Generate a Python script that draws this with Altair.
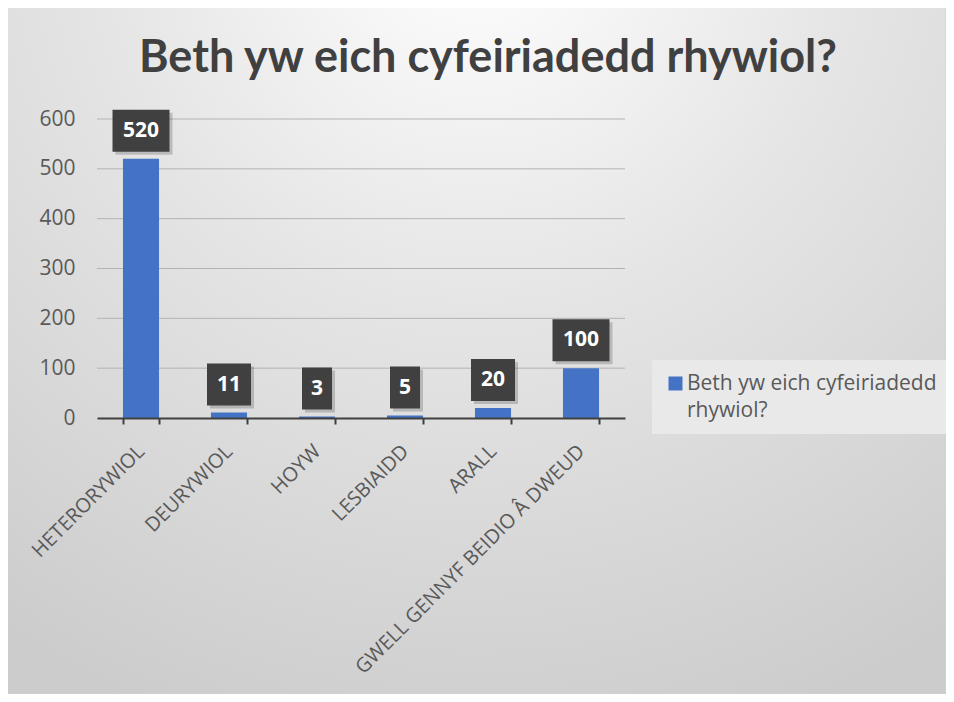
import altair as alt
import pandas as pd

categories = ["HETERORYWIOL", "DEURYWIOL", "HOYW", "LESBIAIDD", "ARALL", "GWELL GENNYF BEIDIO Â DWEUD"]
values = [520, 11, 3, 5, 20, 100]
series_name = "Beth yw eich cyfeiriadedd rhywiol?"
legend_lines = ["Beth yw eich cyfeiriadedd", "rhywiol?"]
title_text = "Beth yw eich cyfeiriadedd rhywiol?"
y_ticks = [0, 100, 200, 300, 400, 500, 600]

df = pd.DataFrame({"cat": categories, "value": values})
df["series"] = series_name
df["digits"] = df["value"].astype(str).str.len().astype(str)
grid_df = pd.DataFrame({"value": y_ticks[1:]})

PW, PH = 528, 299
PAD = {"left": 89, "top": 111, "right": 938 - 89 - PW, "bottom": 686 - 111 - PH}

# label box shapes (unit path scaled by sqrt(size)/2)
box_paths = [
    "M-0.714,-1L0.714,-1L0.714,1L-0.714,1Z",
    "M-1.048,-1L1.048,-1L1.048,1L-1.048,1Z",
    "M-1.357,-1L1.357,-1L1.357,1L-1.357,1Z",
]
shape_scale = alt.Scale(domain=["1", "2", "3"], range=box_paths)

x_axis = alt.Axis(
    title=None,
    labelAngle=-45,
    labelAlign="right",
    labelBaseline="middle",
    labelFont="Open Sans",
    labelFontSize=20,
    labelColor="#595959",
    labelPadding=24,
    labelLimit=0,
    domainColor="#404040",
    domainWidth=1.8,
    tickColor="#404040",
    tickWidth=2,
    tickSize=6,
    tickBand="extent",
    grid=False,
    zindex=2,
)
y_axis = alt.Axis(
    title=None,
    values=y_ticks,
    domain=False,
    ticks=False,
    grid=False,
    labelFont="Open Sans",
    labelFontSize=21,
    labelColor="#595959",
    labelPadding=22,
    zindex=2,
)
y_scale = alt.Scale(domain=[0, 600], nice=False)

x_enc = alt.X("cat:N", sort=categories, scale=alt.Scale(paddingInner=0.59, paddingOuter=0.295), axis=x_axis)
y_enc = alt.Y("value:Q", scale=y_scale, axis=y_axis)

gradient = {
    "gradient": "radial",
    "x1": 0.5, "y1": 0.05, "r1": 0,
    "x2": 0.5, "y2": 0.05, "r2": 0.9,
    "stops": [
        {"offset": 0, "color": "#ffffff"},
        {"offset": 0.45, "color": "#e5e5e5"},
        {"offset": 1, "color": "#cccccc"},
    ],
}

one = pd.DataFrame({"k": [0]})
bg = alt.Chart(one).mark_rect(fill=gradient, stroke="#d0d0d0", strokeWidth=1).encode(
    x=alt.value(-PAD["left"] - 1),
    x2=alt.value(PW + PAD["right"]),
    y=alt.value(-PAD["top"] - 1),
    y2=alt.value(PH + PAD["bottom"]),
)

grid = alt.Chart(grid_df).mark_rule(color="#b3b3b3", strokeWidth=1).encode(
    y=y_enc,
    x=alt.value(0),
    x2=alt.value(PW),
)

label_expr = "[" + ", ".join("'" + s + "'" for s in legend_lines) + "]"

bars = alt.Chart(df).mark_bar().encode(
    x=x_enc,
    y=y_enc,
    color=alt.Color(
        "series:N",
        scale=alt.Scale(range=["#4472C4"]),
        legend=alt.Legend(
            title=None,
            orient="none",
            legendX=555,
            legendY=241,
            fillColor="#e9e9e9",
            padding=13,
            symbolType="square",
            symbolSize=196,
            symbolStrokeWidth=0,
            labelFont="Open Sans",
            labelFontSize=21,
            labelColor="#595959",
            labelExpr=label_expr,
            labelLimit=0,
            labelOffset=1,
            labelBaseline="middle",
        ),
    ),
)

shadow = alt.Chart(df).mark_point(filled=True, size=1764, opacity=0.18, color="#000000", xOffset=3, yOffset=-25).encode(
    x=alt.X("cat:N", sort=categories),
    y=alt.Y("value:Q"),
    shape=alt.Shape("digits:N", scale=shape_scale, legend=None),
)

boxes = alt.Chart(df).mark_point(filled=True, size=1764, opacity=1, color="#404040", yOffset=-28).encode(
    x=alt.X("cat:N", sort=categories),
    y=alt.Y("value:Q"),
    shape=alt.Shape("digits:N", scale=shape_scale, legend=None),
)

texts = alt.Chart(df).mark_text(
    font="Open Sans", fontSize=21, fontWeight="bold", color="#ffffff", yOffset=-28, baseline="middle", align="center"
).encode(
    x=alt.X("cat:N", sort=categories),
    y=alt.Y("value:Q"),
    text="value:Q",
)

title = alt.Chart(one).mark_text(
    text=title_text,
    font="Lato",
    fontSize=45,
    fontWeight="bold",
    color="#404040",
    align="center",
    baseline="alphabetic",
).encode(x=alt.value(391), y=alt.value(-47))

chart = (
    alt.layer(bg, grid, bars, shadow, boxes, texts, title)
    .properties(width=PW, height=PH, padding=PAD, autosize=alt.AutoSizeParams(type="none"), background="#ffffff")
    .configure(style={"guide-label": {"lineHeight": 27}})
    .configure_view(stroke=None)
)

chart.save("out.html", embed_options={"renderer": "svg", "actions": False})
